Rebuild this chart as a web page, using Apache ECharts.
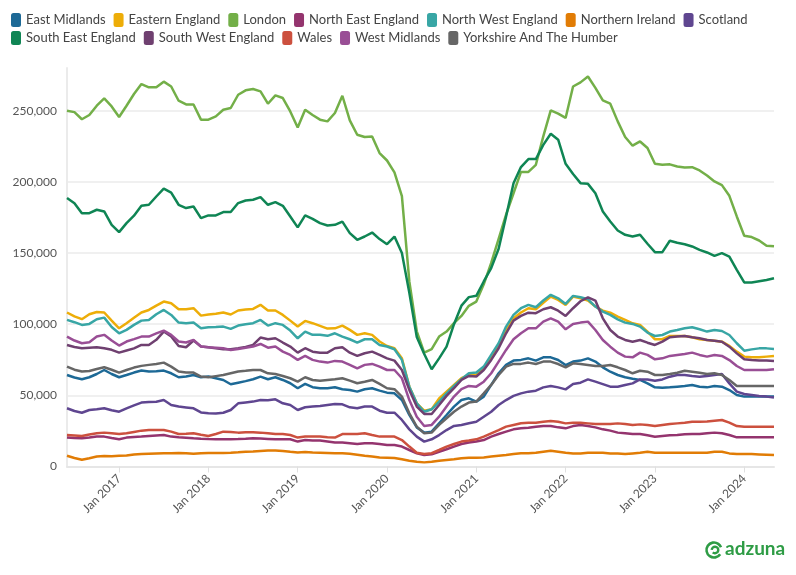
<!DOCTYPE html>
<html lang="en">
<head>
    <meta charset="UTF-8">
    <title>Job ads by region</title>
    <script src="https://cdn.jsdelivr.net/npm/echarts@6.0.0/dist/echarts.min.js"></script>
    <style>
        * { margin: 0; padding: 0; }
        html, body { width: 796px; height: 575px; background: #fff; }
        #main { width: 796px; height: 575px; }
    </style>
</head>
<body>
<div id="main"></div>
<script>
    // monthly, Jun 2016 .. May 2024
    var months = [
        'Jun 2016', 'Jul 2016', 'Aug 2016', 'Sep 2016', 'Oct 2016', 'Nov 2016', 'Dec 2016',
        'Jan 2017', 'Feb 2017', 'Mar 2017', 'Apr 2017', 'May 2017', 'Jun 2017', 'Jul 2017', 'Aug 2017', 'Sep 2017', 'Oct 2017', 'Nov 2017', 'Dec 2017',
        'Jan 2018', 'Feb 2018', 'Mar 2018', 'Apr 2018', 'May 2018', 'Jun 2018', 'Jul 2018', 'Aug 2018', 'Sep 2018', 'Oct 2018', 'Nov 2018', 'Dec 2018',
        'Jan 2019', 'Feb 2019', 'Mar 2019', 'Apr 2019', 'May 2019', 'Jun 2019', 'Jul 2019', 'Aug 2019', 'Sep 2019', 'Oct 2019', 'Nov 2019', 'Dec 2019',
        'Jan 2020', 'Feb 2020', 'Mar 2020', 'Apr 2020', 'May 2020', 'Jun 2020', 'Jul 2020', 'Aug 2020', 'Sep 2020', 'Oct 2020', 'Nov 2020', 'Dec 2020',
        'Jan 2021', 'Feb 2021', 'Mar 2021', 'Apr 2021', 'May 2021', 'Jun 2021', 'Jul 2021', 'Aug 2021', 'Sep 2021', 'Oct 2021', 'Nov 2021', 'Dec 2021',
        'Jan 2022', 'Feb 2022', 'Mar 2022', 'Apr 2022', 'May 2022', 'Jun 2022', 'Jul 2022', 'Aug 2022', 'Sep 2022', 'Oct 2022', 'Nov 2022', 'Dec 2022',
        'Jan 2023', 'Feb 2023', 'Mar 2023', 'Apr 2023', 'May 2023', 'Jun 2023', 'Jul 2023', 'Aug 2023', 'Sep 2023', 'Oct 2023', 'Nov 2023', 'Dec 2023',
        'Jan 2024', 'Feb 2024', 'Mar 2024', 'Apr 2024', 'May 2024'
    ];

    var eastMidlands = [64300, 62500, 61300, 62700, 65000, 67800, 65000, 62700, 64300, 66000, 67400, 66700, 67000, 67400, 65500, 62700, 63200, 64300, 62700, 63200, 62000, 60800, 57800, 58900, 60000, 61300, 63200, 61300, 62700, 60800, 58500, 55000, 58000, 55700, 55000, 55000, 55700, 54300, 53800, 52600, 54300, 55000, 53300, 51900, 51400, 46700, 36200, 27500, 23800, 24500, 30400, 36200, 42100, 46700, 47900, 45600, 49100, 57300, 65500, 71400, 74400, 74900, 76000, 74400, 76700, 76700, 74800, 71300, 73700, 74400, 76000, 73700, 69700, 66600, 64300, 62700, 61700, 60800, 58400, 55600, 55400, 55600, 56100, 56600, 57300, 56100, 55600, 56600, 56100, 53700, 50200, 49100, 49100, 49100, 49100, 49100];
    var easternEngland = [108200, 105500, 103500, 107000, 108600, 108200, 102500, 97100, 100700, 104500, 108200, 110000, 113000, 115900, 114700, 110500, 110500, 111200, 106000, 106800, 107300, 108200, 106800, 109600, 110300, 110700, 113600, 109600, 109600, 106500, 102500, 98300, 102300, 100700, 98800, 96900, 97100, 99000, 96000, 92500, 93600, 92500, 87800, 84700, 83100, 76000, 56100, 44400, 39200, 40200, 47900, 52600, 57300, 62000, 64300, 64300, 69000, 76000, 84300, 96000, 104200, 108200, 111200, 110500, 115000, 119400, 117000, 113500, 119400, 118200, 116600, 112400, 109500, 108100, 105300, 103000, 100600, 99500, 94800, 89400, 89400, 91700, 91700, 91700, 90800, 89400, 88900, 88400, 87700, 84700, 80700, 77200, 76700, 76700, 77200, 77700];
    var london = [250000, 249000, 244000, 247000, 253500, 258600, 253000, 245600, 253500, 261700, 268700, 266400, 266400, 270400, 267000, 257000, 254400, 254400, 243700, 243700, 246000, 250700, 251900, 261200, 264300, 265200, 263600, 254900, 260800, 258900, 249500, 238200, 250700, 247000, 243700, 242500, 248400, 260500, 243200, 233100, 231500, 231900, 220200, 215000, 206600, 190000, 130000, 95000, 80000, 82400, 91300, 94800, 100700, 105800, 112900, 115900, 128000, 143000, 160000, 177000, 192000, 207000, 207000, 212000, 232000, 250200, 247900, 244900, 267000, 269900, 274000, 266000, 257200, 254900, 242500, 231500, 225400, 228400, 223800, 212700, 212000, 212300, 210800, 210100, 210300, 208000, 204500, 200300, 197700, 190200, 175700, 162100, 161200, 158800, 155100, 154700];
    var northEast = [20300, 20000, 19800, 20300, 21000, 21000, 20000, 19100, 20300, 20800, 21000, 21400, 21800, 22100, 21000, 20500, 20200, 19800, 19500, 19300, 19200, 19100, 19200, 19300, 19500, 19800, 19600, 19400, 19100, 19100, 19100, 17500, 18600, 18200, 18200, 17500, 16800, 16800, 16300, 15800, 16300, 16300, 15800, 15100, 15100, 14000, 11600, 9300, 8100, 8600, 10400, 12100, 14000, 15800, 16800, 17500, 18600, 21000, 22800, 24500, 26100, 26800, 27200, 28000, 28400, 28400, 27500, 26800, 28400, 29100, 28400, 27500, 26100, 25200, 23800, 23300, 22800, 22800, 21900, 20900, 21400, 21900, 22100, 22600, 22800, 22800, 23300, 23800, 23300, 22100, 20500, 20500, 20500, 20500, 20500, 20500];
    var northWest = [103000, 101400, 99500, 100200, 103500, 104600, 98000, 93600, 96000, 99500, 102500, 103000, 107000, 110000, 106500, 101100, 100700, 101100, 97100, 97800, 98000, 98300, 96700, 99000, 100000, 100700, 103000, 99000, 100700, 99500, 95500, 90100, 94800, 92500, 92500, 91800, 93600, 91300, 89400, 87100, 89400, 89400, 85400, 84300, 82400, 74900, 56100, 44400, 38500, 40200, 45600, 51400, 56600, 61300, 65500, 66000, 70200, 78400, 86600, 98300, 106500, 111200, 113600, 111900, 116600, 120600, 118200, 114200, 119900, 118900, 117500, 112400, 108800, 106500, 103400, 101100, 100200, 98300, 94100, 91700, 92400, 94800, 95900, 97100, 97800, 96400, 94800, 95900, 95200, 92400, 86600, 81400, 82300, 83000, 83000, 82600];
    var northernIreland = [7500, 6000, 4700, 5800, 7000, 7400, 7200, 7600, 7800, 8500, 8800, 9000, 9200, 9300, 9300, 9400, 9300, 9000, 9300, 9500, 9500, 9500, 9700, 10000, 10400, 10600, 10900, 11200, 11300, 10900, 10300, 9800, 10200, 9800, 9700, 9500, 9300, 9300, 9000, 8300, 7600, 7000, 6400, 6200, 6000, 5100, 4100, 3400, 2900, 3400, 4100, 4600, 5100, 5800, 6200, 6200, 6400, 7000, 7600, 8100, 8800, 9300, 9300, 9700, 10400, 11100, 10400, 9700, 9200, 9200, 9700, 9700, 9700, 9200, 9200, 8700, 9200, 9700, 10400, 9700, 9700, 9700, 9700, 9700, 9700, 9700, 9700, 10400, 10400, 9200, 8700, 8700, 8700, 8500, 8300, 8000];
    var scotland = [40900, 39000, 37800, 39700, 40200, 40900, 39500, 38500, 40900, 43000, 44900, 45300, 45500, 46700, 43200, 42100, 41500, 40900, 38000, 37400, 37200, 37800, 39700, 44400, 45000, 45600, 46700, 46500, 47200, 44400, 43200, 39700, 41600, 42100, 42500, 43200, 43900, 43700, 41600, 40900, 42100, 42100, 39200, 37800, 37800, 32700, 26100, 21000, 17500, 19100, 22100, 25600, 28500, 29200, 30400, 31500, 35000, 38500, 43200, 46700, 49600, 51400, 52600, 53300, 55600, 56600, 55600, 54200, 57900, 58900, 61200, 59600, 57900, 56100, 56100, 57300, 58400, 61200, 61200, 60300, 61200, 63100, 64300, 64300, 63600, 63100, 63600, 64300, 65000, 58400, 52600, 50900, 50200, 49500, 49100, 48500];
    var southEast = [188600, 185000, 178000, 178000, 180400, 179200, 169800, 164700, 171000, 176200, 183200, 183900, 189700, 195300, 192500, 183900, 181600, 182700, 174500, 176400, 176400, 178800, 178800, 185100, 186900, 187400, 189300, 183900, 185800, 183200, 175700, 168000, 176400, 174000, 171000, 169300, 169800, 172100, 164000, 159300, 161600, 164400, 159800, 156200, 161600, 150000, 122000, 91000, 79000, 68300, 76000, 84200, 100000, 113000, 119000, 119900, 130000, 139400, 153000, 175700, 199000, 210400, 216000, 216000, 226000, 233800, 229600, 212700, 205500, 199100, 198600, 192000, 179200, 172100, 165800, 162800, 161600, 162800, 156500, 150600, 150600, 158600, 157200, 156200, 154600, 152200, 150400, 148000, 149900, 147500, 138200, 129300, 129300, 130200, 131100, 132300];
    var southWest = [85400, 84000, 83100, 83500, 83800, 83100, 82000, 80000, 81500, 83000, 85400, 85400, 89000, 94800, 91300, 84700, 83800, 88500, 84300, 83800, 83000, 82400, 82400, 83100, 84000, 85400, 90600, 89400, 90100, 87100, 84300, 80000, 83100, 80700, 80000, 80000, 83100, 83800, 80000, 77700, 79600, 80700, 78400, 76000, 74400, 67800, 53800, 42100, 36900, 36900, 43200, 49600, 55000, 60800, 63600, 63200, 67800, 74900, 83100, 93600, 102500, 105800, 108100, 107700, 110500, 111900, 109500, 105800, 111200, 116100, 118900, 116600, 104100, 95900, 91300, 88900, 87700, 88900, 87000, 85400, 87700, 90800, 91300, 91700, 90800, 90100, 88900, 88400, 87700, 84200, 79500, 75300, 74800, 74400, 74400, 74100];
    var wales = [22100, 21800, 21400, 22500, 23300, 23800, 23300, 22800, 23300, 24300, 25200, 25600, 25600, 25600, 24500, 22800, 23000, 23300, 22300, 21400, 22800, 24500, 24200, 23800, 24000, 24000, 23800, 23300, 22800, 22800, 22100, 20300, 21000, 21000, 21000, 20500, 20300, 22800, 22800, 22800, 23300, 22100, 21000, 21000, 21000, 18600, 14000, 9700, 8800, 9300, 11600, 14000, 15800, 17500, 18200, 19100, 21000, 23300, 25600, 28000, 29200, 30400, 30800, 30800, 31500, 32000, 31500, 30300, 30800, 30800, 30300, 29800, 29800, 29800, 30300, 29800, 29100, 29600, 29100, 28400, 29100, 29800, 30300, 30800, 31500, 31500, 31700, 32200, 32700, 30800, 28400, 27900, 27900, 27900, 27900, 27900];
    var westMidlands = [91300, 88500, 86600, 87300, 91300, 92500, 88500, 85000, 87800, 89500, 91300, 91300, 93500, 95500, 92500, 87800, 87100, 89000, 84300, 83800, 83500, 83100, 81900, 82600, 83500, 84300, 86100, 83500, 84300, 80700, 78400, 74900, 77700, 74900, 73700, 73000, 74200, 73700, 71400, 69000, 71400, 72100, 70200, 67800, 67800, 62000, 46700, 35000, 28500, 29200, 35000, 42100, 49100, 54300, 56600, 56100, 59600, 65500, 73700, 81900, 89400, 93600, 97100, 97100, 101800, 104100, 101800, 96400, 100200, 101100, 101800, 95900, 88900, 84200, 80000, 77200, 76700, 80000, 78400, 75300, 76000, 77700, 78400, 79100, 80000, 78400, 77200, 78400, 77700, 74800, 70600, 67800, 67800, 67800, 67800, 68300];
    var yorkshire = [70200, 68000, 66700, 67100, 68500, 69700, 68000, 66000, 67800, 69500, 70700, 71400, 72000, 73000, 70200, 66700, 66000, 66000, 63200, 62700, 63500, 64300, 65500, 66700, 67200, 67800, 67800, 65500, 65000, 63600, 62000, 59600, 62700, 60800, 60300, 60800, 61300, 62000, 60300, 58500, 59600, 60800, 58000, 55000, 54300, 49100, 37400, 28000, 23300, 23800, 29200, 33900, 38500, 42100, 44900, 45600, 51400, 57300, 64300, 70200, 72100, 72100, 73000, 72000, 73700, 73700, 72000, 69700, 72500, 72000, 71300, 70600, 70600, 71300, 69700, 67800, 65500, 67300, 66600, 64300, 64300, 65000, 65900, 67300, 66600, 65900, 65000, 65500, 64300, 60800, 56600, 56600, 56600, 56600, 56600, 56600];

    var regions = [
        { name: 'East Midlands', color: '#1D6996', data: eastMidlands },
        { name: 'Eastern England', color: '#EDAD08', data: easternEngland },
        { name: 'London', color: '#73AF48', data: london },
        { name: 'North East England', color: '#94346E', data: northEast },
        { name: 'North West England', color: '#38A6A5', data: northWest },
        { name: 'Northern Ireland', color: '#E17C05', data: northernIreland },
        { name: 'Scotland', color: '#5F4690', data: scotland },
        { name: 'South East England', color: '#0F8554', data: southEast },
        { name: 'South West England', color: '#6F4070', data: southWest },
        { name: 'Wales', color: '#CC503E', data: wales },
        { name: 'West Midlands', color: '#994E95', data: westMidlands },
        { name: 'Yorkshire And The Humber', color: '#666666', data: yorkshire }
    ];

    var font = 'Lato, "Noto Sans", sans-serif';
    var isJan = function (idx, val) { return val.indexOf('Jan') === 0; };

    var legendBase = {
        orient: 'horizontal',
        left: 11,
        padding: 0,
        icon: 'roundRect',
        itemWidth: 10,
        itemHeight: 14,
        itemGap: 8,
        textStyle: { fontFamily: font, fontSize: 13, color: '#444' }
    };

    var chart = echarts.init(document.getElementById('main'));
    chart.setOption({
        animation: false,
        color: regions.map(r => r.color),
        tooltip: { trigger: 'axis' },
        legend: [
            Object.assign({}, legendBase, { top: 13, data: regions.slice(0, 7).map(r => r.name) }),
            Object.assign({}, legendBase, { top: 31, data: regions.slice(7).map(r => r.name) })
        ],
        grid: { left: 67, right: 22, top: 68, bottom: 108.5, containLabel: false, outerBoundsMode: 'none' },
        xAxis: {
            type: 'category',
            data: months,
            boundaryGap: false,
            axisLine: { lineStyle: { color: '#e6e6e6', width: 2 } },
            axisTick: { show: true, interval: isJan, length: 6, lineStyle: { color: '#e0e0e0' } },
            axisLabel: {
                interval: isJan,
                rotate: 45,
                margin: 10,
                fontFamily: font,
                fontSize: 12,
                color: '#555'
            },
            splitLine: { show: false }
        },
        yAxis: {
            type: 'value',
            min: 0,
            max: 280000,
            interval: 50000,
            axisLine: { show: true, lineStyle: { color: '#ebebeb', width: 2 } },
            axisTick: { show: false },
            axisLabel: {
                showMaxLabel: false,
                margin: 10,
                fontFamily: font,
                fontSize: 12,
                color: '#555',
                formatter: v => v.toLocaleString('en-US')
            },
            splitLine: { showMaxLine: false, lineStyle: { color: '#ebebeb', width: 1.5 } }
        },
        series: regions.map(r => ({
            name: r.name,
            type: 'line',
            data: r.data,
            symbol: 'none',
            lineStyle: { width: 2.5, color: r.color },
            itemStyle: { color: r.color }
        })),
        graphic: [
            {
                type: 'arc',
                shape: { cx: 714, cy: 550, r: 7.5, startAngle: 0.6, endAngle: 5.9 },
                style: { stroke: '#2e9c45', lineWidth: 2.6, fill: 'none' }
            },
            {
                type: 'arc',
                shape: { cx: 715, cy: 550, r: 3.3, startAngle: 3.2, endAngle: 8.6 },
                style: { stroke: '#2e9c45', lineWidth: 2.4, fill: 'none' }
            },
            {
                type: 'text',
                left: 725,
                top: 539,
                style: { text: 'adzuna', fontFamily: font, fontWeight: 'bold', fontSize: 19, fill: '#2e9c45' }
            }
        ]
    });
</script>
</body>
</html>
